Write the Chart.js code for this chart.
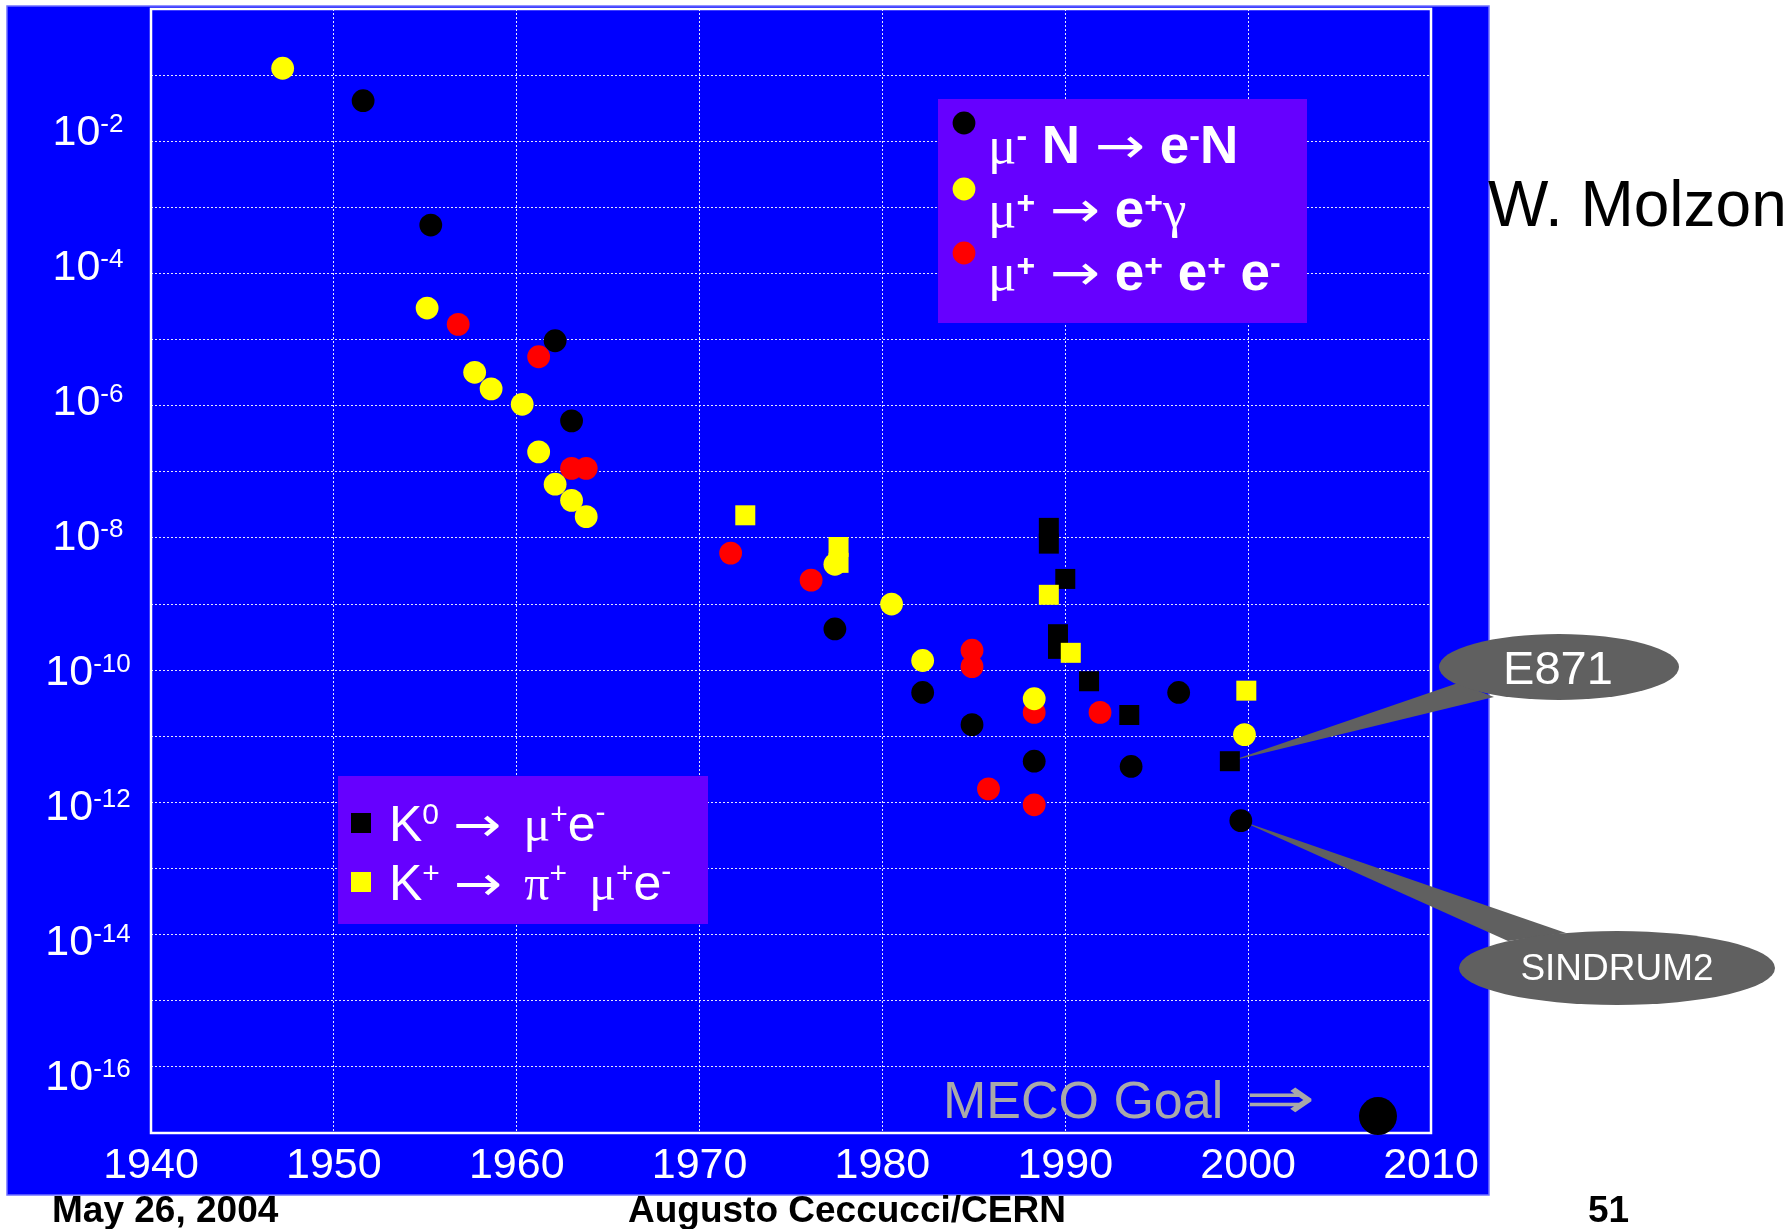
<!DOCTYPE html>
<html>
<head>
<meta charset="utf-8">
<script src="https://cdn.jsdelivr.net/npm/chart.js@4.4.1/dist/chart.umd.min.js"></script>
<style>
  html, body { margin: 0; padding: 0; background: #ffffff; overflow: hidden; }
  canvas { display: block; }
</style>
</head>
<body>
<canvas id="chart" width="1791" height="1229"></canvas>
<script>
// ---- axis ticks ----
const xTickYears = [1940, 1950, 1960, 1970, 1980, 1990, 2000, 2010];
const yDecadeExponents = [0, -1, -2, -3, -4, -5, -6, -7, -8, -9, -10, -11, -12, -13, -14, -15, -16, -17];
const yLabelExponents = [-2, -4, -6, -8, -10, -12, -14, -16];

// ---- mu- N -> e- N ----
const muNeYears  = [1951.6, 1955.3, 1962.1, 1963.0, 1977.4, 1982.2, 1984.9, 1988.3, 1993.6, 1996.2, 1999.6];
const muNeLimits = [4.1e-2, 5.4e-4, 9.6e-6, 5.9e-7, 4.2e-10, 4.6e-11, 1.5e-11, 4.2e-12, 3.5e-12, 4.6e-11, 5.3e-13];

// ---- mu+ -> e+ gamma ----
const muEgYears  = [1947.2, 1955.1, 1957.7, 1958.6, 1960.3, 1961.2, 1962.1, 1963.0, 1963.8, 1977.4, 1980.5, 1982.2, 1988.3, 1999.8];
const muEgLimits = [1.27e-1, 3.0e-5, 3.2e-6, 1.8e-6, 1.05e-6, 2.0e-7, 6.5e-8, 3.7e-8, 2.1e-8, 4.0e-9, 1.0e-9, 1.4e-10, 3.7e-11, 1.06e-11];

// ---- mu+ -> e+ e+ e- ----
const mu3eYears  = [1956.8, 1961.2, 1963.0, 1963.8, 1971.7, 1976.1, 1984.9, 1984.9, 1985.8, 1988.3, 1988.3, 1991.9];
const mu3eLimits = [1.7e-5, 5.5e-6, 1.13e-7, 1.13e-7, 5.9e-9, 2.3e-9, 2.0e-10, 1.13e-10, 1.6e-12, 2.3e-11, 9.2e-13, 2.3e-11];

// ---- K0 -> mu+ e- ----
const k0Years  = [1989.1, 1989.1, 1990.0, 1989.6, 1989.6, 1991.3, 1993.5, 1999.0];
const k0Limits = [1.42e-8, 8.2e-9, 2.4e-9, 3.5e-10, 2.1e-10, 6.8e-11, 2.1e-11, 4.2e-12];

// ---- K+ -> pi+ mu+ e- ----
const kpYears  = [1972.5, 1977.6, 1977.6, 1989.1, 1990.3, 1999.9];
const kpLimits = [2.2e-8, 7.3e-9, 4.2e-9, 1.38e-9, 1.83e-10, 4.9e-11];

// ---- MECO goal ----
const mecoYears  = [2007.1];
const mecoLimits = [1.8e-17];

const SANS = '"Liberation Sans", Arial, sans-serif';
const SERIF = '"Liberation Serif", "Times New Roman", serif';
const ARROWS = '"DejaVu Sans", sans-serif';
const BLUE = '#0000FF';
const PURPLE = '#6600FF';
const CALLOUT = '#606060';

const toPoints = (xs, ys) => xs.map((x, i) => ({ x: x, y: ys[i] }));

function series(label, xs, ys, color, style, radius, order) {
  return {
    label: label,
    data: toPoints(xs, ys),
    showLine: false,
    pointStyle: style,
    pointRadius: radius,
    pointHoverRadius: radius,
    pointBackgroundColor: color,
    backgroundColor: color,
    pointBorderWidth: 0,
    borderWidth: 0,
    order: order,
    clip: false
  };
}

// text pieces: [text, font, rise, horizontalScale]
function pieceWidth(ctx, p) {
  ctx.font = p[1];
  return ctx.measureText(p[0]).width * (p[3] || 1);
}
function richWidth(ctx, parts) {
  let w = 0;
  for (const p of parts) w += pieceWidth(ctx, p);
  return w;
}
function drawRich(ctx, x, y, parts) {
  let cx = x;
  for (const p of parts) {
    const w = pieceWidth(ctx, p);
    ctx.save();
    ctx.translate(cx, y - (p[2] || 0));
    ctx.scale(p[3] || 1, 1);
    ctx.fillText(p[0], 0, 0);
    ctx.restore();
    cx += w;
  }
  return cx;
}

const decorations = {
  id: 'decorations',
  beforeDraw(chart) {
    const ctx = chart.ctx;
    ctx.save();
    ctx.fillStyle = '#ffffff';
    ctx.fillRect(0, 0, chart.width, chart.height);
    ctx.fillStyle = BLUE;
    ctx.fillRect(7, 6, 1482, 1189);
    ctx.strokeStyle = '#7070ff';
    ctx.lineWidth = 1.5;
    ctx.strokeRect(7, 6, 1482, 1189);
    ctx.restore();
  },
  beforeDatasetsDraw(chart) {
    const ctx = chart.ctx;
    const a = chart.chartArea;
    const xs = chart.scales.x, ys = chart.scales.y;
    ctx.save();

    // plot frame
    ctx.strokeStyle = '#ffffff';
    ctx.lineWidth = 2.5;
    ctx.strokeRect(a.left, a.top, a.right - a.left, a.bottom - a.top);

    // legend panels
    ctx.fillStyle = PURPLE;
    ctx.fillRect(938, 99, 369, 224);
    ctx.fillRect(338, 776, 370, 148);

    // callout: E871 points at the last K0 limit
    const e871x = xs.getPixelForValue(k0Years[k0Years.length - 1]);
    const e871y = ys.getPixelForValue(k0Limits[k0Limits.length - 1]);
    ctx.fillStyle = CALLOUT;
    ctx.beginPath();
    ctx.moveTo(e871x, e871y);
    ctx.lineTo(1458, 683);
    ctx.lineTo(1494, 697);
    ctx.closePath();
    ctx.fill();
    ctx.beginPath();
    ctx.ellipse(1559, 667, 120, 33, 0, 0, Math.PI * 2);
    ctx.fill();

    // callout: SINDRUM2 points at the last mu-N limit
    const sinx = xs.getPixelForValue(muNeYears[muNeYears.length - 1]);
    const siny = ys.getPixelForValue(muNeLimits[muNeLimits.length - 1]);
    ctx.beginPath();
    ctx.moveTo(sinx, siny);
    ctx.lineTo(1508, 941);
    ctx.lineTo(1566, 933);
    ctx.closePath();
    ctx.fill();
    ctx.beginPath();
    ctx.ellipse(1617, 968, 158, 37, 0, 0, Math.PI * 2);
    ctx.fill();

    ctx.restore();
  },
  afterDatasetsDraw(chart) {
    const ctx = chart.ctx;
    const xs = chart.scales.x, ys = chart.scales.y;
    ctx.save();
    ctx.textBaseline = 'alphabetic';
    ctx.textAlign = 'left';

    // y-axis decade labels 10^n (label rows are spaced slightly wider than the decades)
    ctx.fillStyle = '#ffffff';
    for (const e of yLabelExponents) {
      const py = ys.getPixelForValue(Math.pow(10, e));
      const shift = -11.5 + (Math.abs(e) - 2) * 1.4;
      const parts = [['10', '43px ' + SANS, 0], ['-' + Math.abs(e), '26px ' + SANS, 13]];
      const w = richWidth(ctx, parts);
      drawRich(ctx, 88 - w / 2, py + shift + 15.5, parts);
    }

    // muon legend
    const B = 'bold 53px ' + SANS, G = '53px ' + SERIF, S = 'bold 32px ' + SANS;
    const AR = ['\u2192', '50px ' + ARROWS, 0, 1.2];
    const muMarks = [['#000000', 123], ['#FFFF00', 189], ['#FF0000', 253]];
    for (const m of muMarks) {
      ctx.fillStyle = m[0];
      ctx.beginPath();
      ctx.arc(964, m[1], 11.4, 0, Math.PI * 2);
      ctx.fill();
    }
    ctx.fillStyle = '#ffffff';
    drawRich(ctx, 988, 163, [['\u03BC', G], ['-', S, 17], [' N ', B], AR, [' e', B], ['-', S, 17], ['N', B]]);
    drawRich(ctx, 988, 227, [['\u03BC', G], ['+', S, 14], [' ', B], AR, [' e', B], ['+', S, 14], ['\u03B3', G]]);
    drawRich(ctx, 988, 290, [['\u03BC', G], ['+', S, 14], [' ', B], AR, [' e', B], ['+', S, 14],
                             [' e', B], ['+', S, 14], [' e', B], ['-', S, 17]]);

    // kaon legend
    const R = '50px ' + SANS, G2 = '50px ' + SERIF, SR = '30px ' + SANS;
    const AR2 = ['\u2192', '48px ' + ARROWS, 0, 1.2];
    ctx.fillStyle = '#000000';
    ctx.fillRect(351, 813, 20, 20);
    ctx.fillStyle = '#FFFF00';
    ctx.fillRect(351, 872, 20, 20);
    ctx.fillStyle = '#ffffff';
    drawRich(ctx, 389, 841, [['K', R], ['0', SR, 17], [' ', R], AR2, [' ', R], [' ', SR], ['\u03BC', G2], ['+', SR, 17],
                             ['e', R], ['-', SR, 19]]);
    drawRich(ctx, 389, 900, [['K', R], ['+', SR, 17], [' ', R], AR2, [' ', R], [' ', SR], ['\u03C0', G2], ['+', SR, 17],
                             [' ', R], [' ', SR], ['\u03BC', G2], ['+', SR, 17], ['e', R], ['-', SR, 19]]);

    // MECO goal annotation, placed left of the goal marker
    const mx = xs.getPixelForValue(mecoYears[0]);
    ctx.fillStyle = '#A9A9A9';
    ctx.font = '52px ' + SANS;
    ctx.fillText('MECO Goal', mx - 435, 1118);
    ctx.save();
    ctx.translate(mx - 133, 1118);
    ctx.scale(1.45, 1);
    ctx.font = '58px ' + ARROWS;
    ctx.fillText('\u21D2', 0, 0);
    ctx.restore();

    // callout captions
    ctx.fillStyle = '#ffffff';
    ctx.textAlign = 'center';
    ctx.font = '47px ' + SANS;
    ctx.fillText('E871', 1558, 684);
    ctx.font = '37px ' + SANS;
    ctx.fillText('SINDRUM2', 1617, 980);

    // slide texts
    ctx.textAlign = 'left';
    ctx.fillStyle = '#000000';
    ctx.font = '64px ' + SANS;
    ctx.fillText('W. Molzon', 1488, 226);
    ctx.font = 'bold 37px ' + SANS;
    ctx.fillText('May 26, 2004', 52, 1222);
    ctx.fillText('Augusto Ceccucci/CERN', 628, 1222);
    ctx.fillText('51', 1588, 1222);

    ctx.restore();
  }
};

const chart = new Chart(document.getElementById('chart'), {
  type: 'scatter',
  data: {
    datasets: [
      series('\u03BC\u207B N \u2192 e\u207B N', muNeYears, muNeLimits, '#000000', 'circle', 11.4, 5),
      series('\u03BC\u207A \u2192 e\u207A e\u207A e\u207B', mu3eYears, mu3eLimits, '#FF0000', 'circle', 11.4, 4),
      series('\u03BC\u207A \u2192 e\u207A \u03B3', muEgYears, muEgLimits, '#FFFF00', 'circle', 11.4, 3),
      series('K\u2070 \u2192 \u03BC\u207A e\u207B', k0Years, k0Limits, '#000000', 'rect', 14.14, 2),
      series('K\u207A \u2192 \u03C0\u207A \u03BC\u207A e\u207B', kpYears, kpLimits, '#FFFF00', 'rect', 14.14, 1),
      series('MECO Goal', mecoYears, mecoLimits, '#000000', 'circle', 19, 0)
    ]
  },
  options: {
    responsive: false,
    animation: false,
    devicePixelRatio: 1,
    events: [],
    layout: { autoPadding: false, padding: { left: 0, top: 9, right: 360, bottom: 0 } },
    plugins: { legend: { display: false }, tooltip: { enabled: false } },
    scales: {
      x: {
        type: 'linear',
        position: 'bottom',
        min: 1940,
        max: 2010,
        afterBuildTicks(scale) { scale.ticks = xTickYears.map(v => ({ value: v })); },
        afterFit(scale) { scale.height = 96; },
        ticks: {
          autoSkip: false,
          maxRotation: 0,
          color: '#ffffff',
          padding: 7,
          font: { family: SANS, size: 43 },
          callback: v => String(v)
        },
        grid: { color: 'rgba(255,255,255,0.9)', lineWidth: 1, drawTicks: false },
        border: { display: false, dash: [2, 2] }
      },
      y: {
        type: 'logarithmic',
        position: 'left',
        min: 1e-17,
        max: 1,
        afterBuildTicks(scale) { scale.ticks = yDecadeExponents.map(e => ({ value: Math.pow(10, e) })); },
        afterFit(scale) { scale.width = 151; },
        ticks: { display: false },
        grid: { color: 'rgba(255,255,255,0.9)', lineWidth: 1, drawTicks: false },
        border: { display: false, dash: [2, 2] }
      }
    }
  },
  plugins: [decorations]
});
</script>
</body>
</html>
